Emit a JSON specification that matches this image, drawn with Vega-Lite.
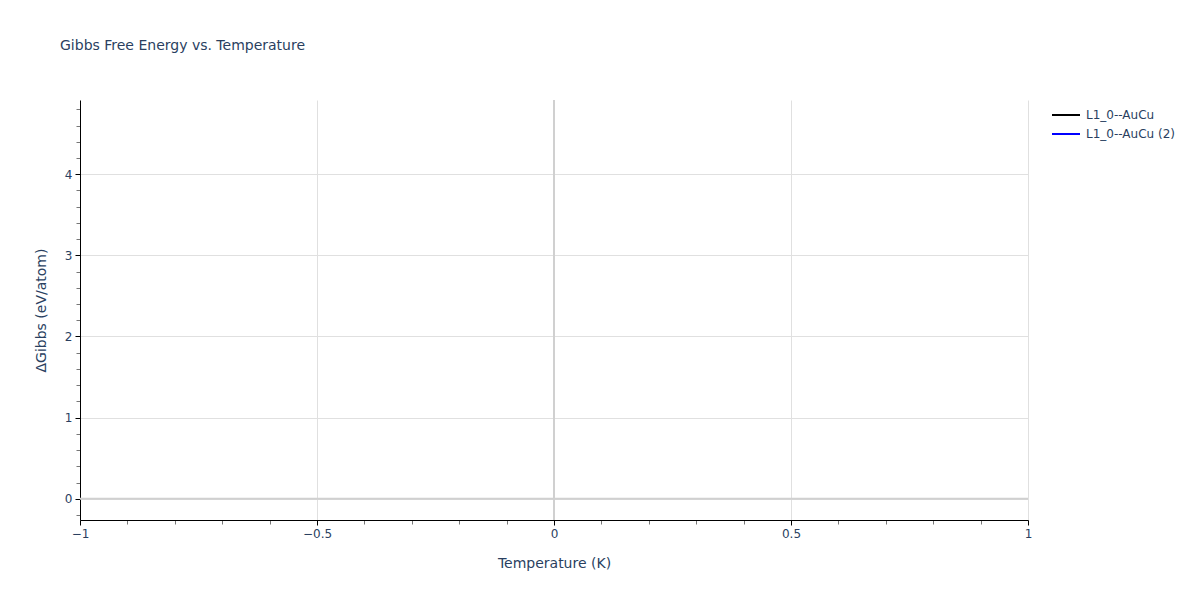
{
  "$schema": "https://vega.github.io/schema/vega-lite/v6.json",
  "description": "Gibbs Free Energy vs. Temperature",
  "width": 948,
  "height": 420,
  "autosize": {"type": "none"},
  "padding": {"left": 80, "top": 100, "right": 172, "bottom": 80},
  "background": "white",
  "config": {"font": "DejaVu Sans", "view": {"stroke": null}},
  "title": {
    "text": "Gibbs Free Energy vs. Temperature",
    "anchor": "start",
    "frame": "group",
    "dx": -20,
    "offset": 46,
    "fontSize": 14,
    "fontWeight": "normal",
    "color": "#2a3f5f",
    "font": "DejaVu Sans"
  },
  "datasets": {
    "series": [
      {"T": 0, "G": 0, "phase": "L1_0--AuCu"},
      {"T": 0, "G": 0, "phase": "L1_0--AuCu (2)"}
    ],
    "zero": [{"v": 0}]
  },
  "resolve": {"axis": {"x": "independent", "y": "independent"}},
  "layer": [
    {
      "data": {"name": "series"},
      "mark": {"type": "point", "opacity": 0},
      "encoding": {
        "x": {
          "field": "T",
          "type": "quantitative",
          "scale": {"domain": [-1, 1], "nice": false, "zero": false},
          "axis": {
            "orient": "bottom",
            "values": [-1, -0.5, 0, 0.5, 1],
            "grid": true,
            "gridColor": "#e0e0e0",
            "gridWidth": 1,
            "domain": false,
            "ticks": false,
            "labels": false,
            "title": null
          }
        },
        "y": {
          "field": "G",
          "type": "quantitative",
          "scale": {"domain": [-0.262, 4.915], "nice": false, "zero": false},
          "axis": {
            "orient": "left",
            "values": [0, 1, 2, 3, 4],
            "grid": true,
            "gridColor": "#e0e0e0",
            "gridWidth": 1,
            "domain": false,
            "ticks": false,
            "labels": false,
            "title": null
          }
        }
      }
    },
    {
      "data": {"name": "zero"},
      "mark": {"type": "rule", "color": "#d0d0d0", "strokeWidth": 2},
      "encoding": {"x": {"field": "v", "type": "quantitative", "axis": null}}
    },
    {
      "data": {"name": "zero"},
      "mark": {"type": "rule", "color": "#d0d0d0", "strokeWidth": 2},
      "encoding": {"y": {"field": "v", "type": "quantitative", "axis": null}}
    },
    {
      "data": {"name": "series"},
      "mark": {"type": "point", "opacity": 0},
      "encoding": {
        "x": {
          "field": "T",
          "type": "quantitative",
          "axis": {
            "orient": "bottom",
            "values": [-0.9, -0.8, -0.7, -0.6, -0.4, -0.3, -0.2, -0.1, 0.1, 0.2, 0.3, 0.4, 0.6, 0.7, 0.8, 0.9],
            "labels": false,
            "domain": false,
            "grid": false,
            "title": null,
            "tickColor": "#777777",
            "tickSize": 4,
            "tickWidth": 1
          }
        },
        "y": {
          "field": "G",
          "type": "quantitative",
          "axis": {
            "orient": "left",
            "values": [-0.2, 0.2, 0.4, 0.6, 0.8, 1.2, 1.4, 1.6, 1.8, 2.2, 2.4, 2.6, 2.8, 3.2, 3.4, 3.6, 3.8, 4.2, 4.4, 4.6, 4.8],
            "labels": false,
            "domain": false,
            "grid": false,
            "title": null,
            "tickColor": "#777777",
            "tickSize": 4,
            "tickWidth": 1
          }
        }
      }
    },
    {
      "data": {"name": "series"},
      "mark": {"type": "line", "strokeWidth": 2},
      "encoding": {
        "x": {
          "field": "T",
          "type": "quantitative",
          "axis": {
            "orient": "bottom",
            "values": [-1, -0.5, 0, 0.5, 1],
            "format": "~g",
            "grid": false,
            "domainColor": "#000000",
            "domainWidth": 1,
            "tickColor": "#000000",
            "tickSize": 5,
            "tickWidth": 1,
            "labelFont": "DejaVu Sans",
            "labelFontSize": 12,
            "labelColor": "#2a3f5f",
            "labelPadding": 3,
            "labelFlush": false,
            "title": "Temperature (K)",
            "titleFont": "DejaVu Sans",
            "titleFontSize": 14,
            "titleFontWeight": "normal",
            "titleColor": "#2a3f5f",
            "titlePadding": 17
          }
        },
        "y": {
          "field": "G",
          "type": "quantitative",
          "axis": {
            "orient": "left",
            "values": [0, 1, 2, 3, 4],
            "format": "~g",
            "grid": false,
            "domainColor": "#000000",
            "domainWidth": 1,
            "tickColor": "#000000",
            "tickSize": 5,
            "tickWidth": 1,
            "labelFont": "DejaVu Sans",
            "labelFontSize": 12,
            "labelColor": "#2a3f5f",
            "labelPadding": 3,
            "title": "ΔGibbs (eV/atom)",
            "titleFont": "DejaVu Sans",
            "titleFontSize": 14,
            "titleFontWeight": "normal",
            "titleColor": "#2a3f5f",
            "titlePadding": 16
          }
        },
        "color": {
          "field": "phase",
          "type": "nominal",
          "scale": {"domain": ["L1_0--AuCu", "L1_0--AuCu (2)"], "range": ["#000000", "#0000ff"]},
          "legend": {
            "title": null,
            "orient": "none",
            "legendX": 978,
            "legendY": 7,
            "padding": 0,
            "symbolType": "M-2,0H2",
            "symbolSize": 196,
            "symbolStrokeWidth": 2,
            "labelFont": "DejaVu Sans",
            "labelFontSize": 12,
            "labelColor": "#2a3f5f",
            "labelOffset": 12,
            "rowPadding": 5
          }
        }
      }
    }
  ]
}
